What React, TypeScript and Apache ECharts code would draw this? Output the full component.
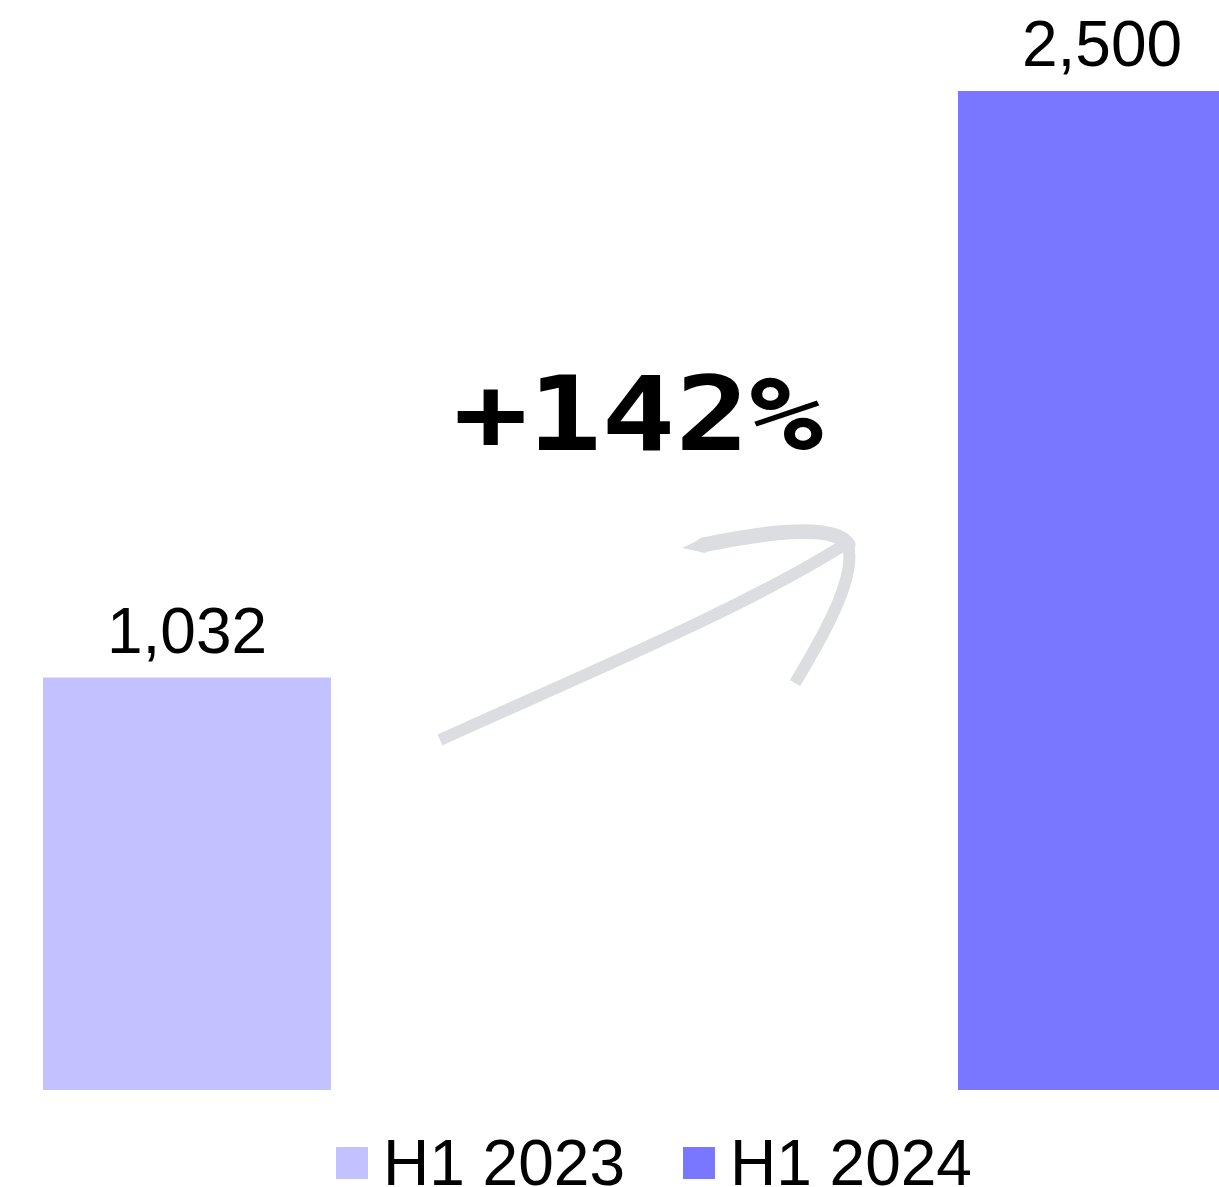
import React, { useEffect, useRef } from "react";
import * as echarts from "echarts";

const categories = ["H1"];
const seriesNames = ["H1 2023", "H1 2024"];
const seriesValues = [1032, 2500];
const seriesColors = ["#c3c1ff", "#7977ff"];
const growthLabel = "+142%";

export default function App() {
  const ref = useRef<HTMLDivElement>(null);
  useEffect(() => {
    if (!ref.current) return;
    const chart = echarts.init(ref.current, null, { renderer: "svg" });
    const arrowColor = "#dcdde1";
    const arrowStyle = { stroke: arrowColor, lineWidth: 12, fill: "none", lineCap: "butt" };
    chart.setOption({
      animation: false,
      backgroundColor: "#ffffff",
      grid: { left: 43, top: 91, width: 1203, height: 999, outerBoundsMode: "none", containLabel: false },
      xAxis: { type: "category", data: categories, show: false },
      yAxis: { type: "value", min: 0, max: 2500, show: false },
      legend: {
        data: seriesNames,
        left: 331,
        top: 1126,
        icon: "rect",
        itemWidth: 32,
        itemHeight: 32,
        itemGap: 58,
        textStyle: {
          fontSize: 64,
          color: "#000",
          fontFamily: "Liberation Sans",
          padding: [0, 0, 0, 10],
        },
      },
      series: seriesNames.map((name, i) => ({
        name,
        type: "bar",
        barWidth: 288,
        barGap: "217.7%",
        barCategoryGap: "0%",
        itemStyle: { color: seriesColors[i] },
        label: {
          show: true,
          position: "top",
          distance: 15,
          fontSize: 64,
          color: "#000",
          fontFamily: "Liberation Sans",
          formatter: (p: any) => Number(p.value).toLocaleString("en-US"),
        },
        data: categories.map(() => seriesValues[i]),
      })),
      graphic: [
        {
          type: "text",
          x: 638.5,
          y: 414,
          scaleX: 1.18,
          scaleY: 1,
          style: {
            text: growthLabel,
            fontFamily: "DejaVu Sans Mono",
            fontWeight: "bold",
            fontSize: 104,
            fill: "#000",
            textAlign: "center",
            textVerticalAlign: "middle",
          },
        },
        {
          type: "bezierCurve",
          shape: { x1: 440, y1: 740, cpx1: 580, cpy1: 676, cpx2: 745, cpy2: 608, x2: 847, y2: 543 },
          style: arrowStyle,
        },
        {
          type: "polygon",
          shape: { points: [[682, 548], [705, 537], [706, 553]] },
          style: { fill: arrowColor },
        },
        {
          type: "bezierCurve",
          shape: { x1: 703, y1: 545, cpx1: 760, cpy1: 533, cpx2: 835, cpy2: 522, x2: 848, y2: 545 },
          style: { ...arrowStyle, lineWidth: 15, lineCap: "round" },
        },
        {
          type: "bezierCurve",
          shape: { x1: 848, y1: 545, cpx1: 856, cpy1: 575, cpx2: 830, cpy2: 625, x2: 795, y2: 683 },
          style: arrowStyle,
        },
      ],
    });
    return () => chart.dispose();
  }, []);
  return (
    <div
      ref={ref}
      style={{ position: "absolute", left: 0, top: 0, width: 1219, height: 1187 }}
    />
  );
}
